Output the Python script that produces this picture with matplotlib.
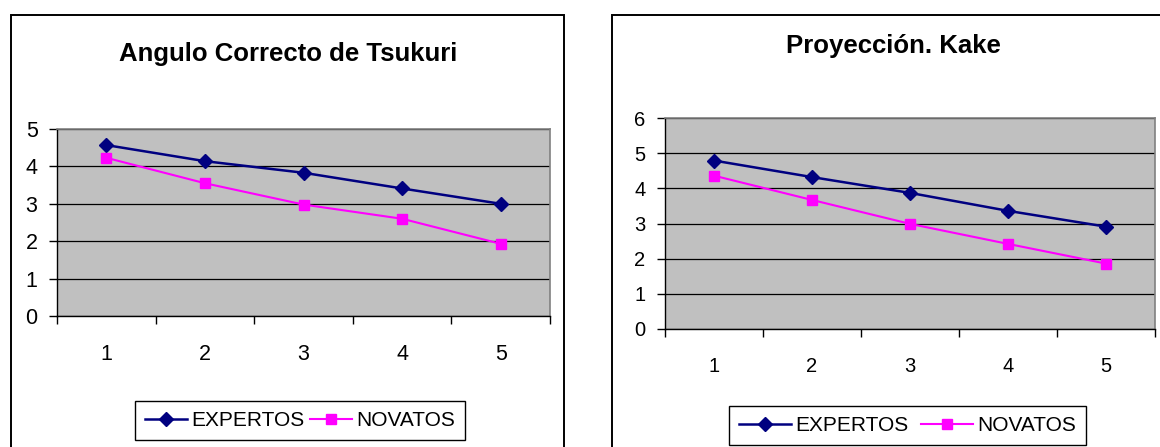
import matplotlib.pyplot as plt
from matplotlib.patches import Rectangle
from matplotlib.lines import Line2D

# Puntuaciones medias por ensayo
ensayos = [1, 2, 3, 4, 5]
tsukuri_expertos = [4.57, 4.14, 3.83, 3.41, 3.00]
tsukuri_novatos = [4.23, 3.55, 2.98, 2.60, 1.93]
kake_expertos = [4.79, 4.32, 3.87, 3.36, 2.91]
kake_novatos = [4.36, 3.67, 2.99, 2.42, 1.86]

W, H = 1160, 447
NAVY = '#000080'
MAGENTA = '#FF00FF'
SANS = ['Liberation Sans', 'DejaVu Sans']


def px_rect(x0, y0, x1, y1):
    """pixel box (top-left origin) -> figure fraction [l, b, w, h]"""
    return [x0 / W, (H - y1) / H, (x1 - x0) / W, (y1 - y0) / H]


def draw_chart(fig, box, frame, title, title_xy, ymax, expertos, novatos,
               title_size, tick_size, legend_size, legend_xy, handle_len, col_space):
    # outer chart frame
    fx0, fy0, fx1, fy1 = frame
    fig.patches.append(Rectangle((fx0 / W, (H - fy1) / H), (fx1 - fx0) / W, (fy1 - fy0) / H,
                                 transform=fig.transFigure, fill=False,
                                 edgecolor='black', linewidth=1.4))
    fig.text(title_xy[0] / W, 1 - title_xy[1] / H, title, ha='center', va='baseline',
             fontsize=title_size, fontweight='bold', family=SANS)

    ax = fig.add_axes(px_rect(*box))
    ax.set_facecolor('#C0C0C0')
    ax.plot(ensayos, expertos, color=NAVY, lw=1.8, marker='D', ms=7.5, zorder=3)
    ax.plot(ensayos, novatos, color=MAGENTA, lw=1.5, marker='s', ms=7.5, zorder=3)
    ax.set_xlim(0.5, 5.5)
    ax.set_ylim(0, ymax)
    ax.set_yticks(range(ymax + 1))
    ax.set_xticks(ensayos)
    ax.set_xticks([k + 0.5 for k in range(6)], minor=True)
    ax.grid(axis='y', color='black', lw=0.9)
    ax.set_axisbelow(True)
    ax.tick_params(axis='x', which='major', length=0, pad=20, labelsize=tick_size)
    ax.tick_params(axis='x', which='minor', length=6, width=1, direction='out')
    ax.tick_params(axis='y', length=6, width=1, pad=8, labelsize=tick_size)
    for lab in ax.get_xticklabels() + ax.get_yticklabels():
        lab.set_family(SANS)
    for side in ['top', 'right']:
        ax.spines[side].set_color('#808080')
        ax.spines[side].set_linewidth(1.2)
    for side in ['left', 'bottom']:
        ax.spines[side].set_color('black')
        ax.spines[side].set_linewidth(1.0)

    handles = [Line2D([], [], color=NAVY, lw=1.8, marker='D', ms=7),
               Line2D([], [], color=MAGENTA, lw=1.5, marker='s', ms=7)]
    leg = fig.legend(handles, ['EXPERTOS', 'NOVATOS'], loc='center', ncol=2,
                     bbox_to_anchor=(legend_xy[0] / W, 1 - legend_xy[1] / H),
                     fancybox=False, edgecolor='black', framealpha=1,
                     handlelength=handle_len, handletextpad=0.2, columnspacing=col_space,
                     borderpad=0.5, prop={'family': SANS, 'size': legend_size})
    leg.get_frame().set_linewidth(1.0)
    return ax


fig = plt.figure(figsize=(W / 100, H / 100), dpi=100)

draw_chart(fig, (57, 129, 550, 316), (11, 14.5, 564, 460),
           'Angulo Correcto de Tsukuri', (288, 61), 5,
           tsukuri_expertos, tsukuri_novatos,
           18.5, 15.5, 15, (300, 420.5), 2.0, 0.3)

draw_chart(fig, (665, 118, 1155, 329), (612, 15, 1175, 460),
           'Proyección. Kake', (893, 53), 6,
           kake_expertos, kake_novatos,
           18.5, 14.5, 15, (907.5, 425.5), 2.5, 0.6)

fig.savefig('out.png', dpi=100)
